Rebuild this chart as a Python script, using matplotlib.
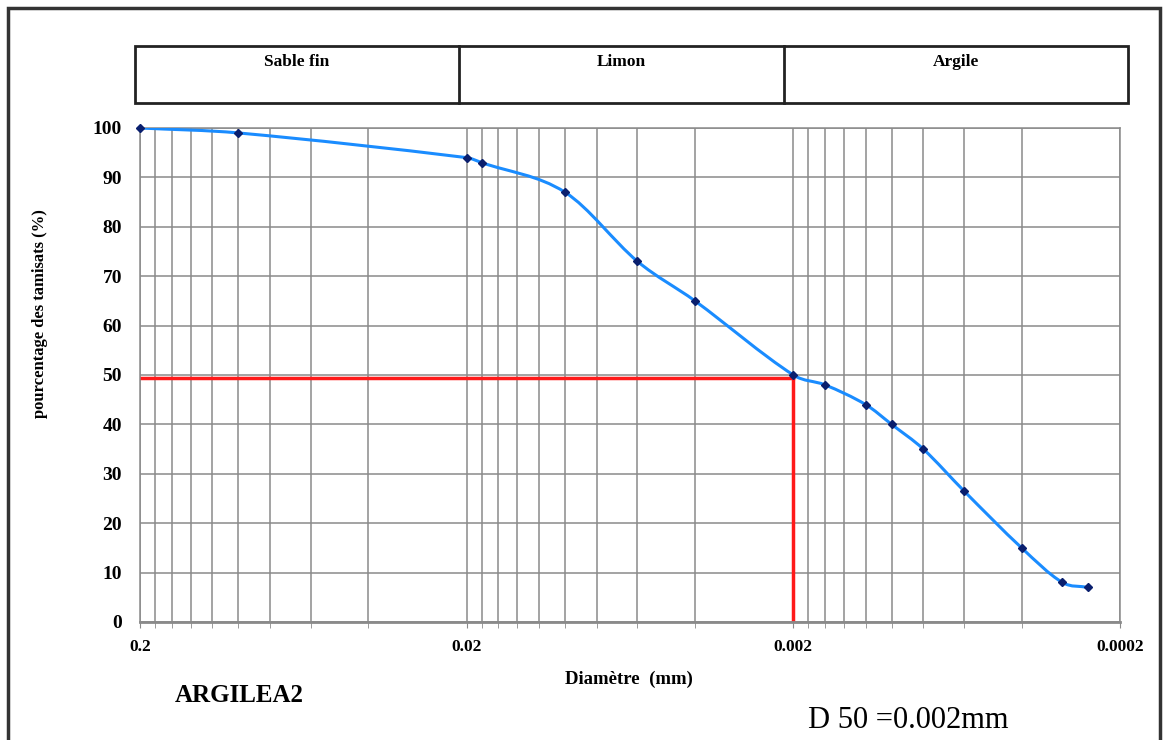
import matplotlib
matplotlib.use("Agg")
import matplotlib.pyplot as plt
import numpy as np
from matplotlib.path import Path
from matplotlib.patches import PathPatch, Rectangle
from matplotlib.lines import Line2D
from matplotlib.ticker import FixedLocator, NullFormatter

# ---- data ----
diameters = [0.2, 0.1, 0.02, 0.018, 0.01, 0.006, 0.004, 0.002, 0.0016,
             0.0012, 0.001, 0.0008, 0.0006, 0.0004, 0.0003, 0.00025]
passing = [100, 99, 94, 93, 87, 73, 65, 50, 48, 44, 40, 35, 26.5, 15, 8, 7]
d50_value = 0.002
d50_level = 49.3
major_ticks = [0.2, 0.02, 0.002, 0.0002]
major_labels = ["0.2", "0.02", "0.002", "0.0002"]
y_ticks = list(range(0, 101, 10))
zones = ["Sable fin", "Limon", "Argile"]

serif = "Liberation Serif"
W, H = 1164, 740
fig = plt.figure(figsize=(W / 100, H / 100), dpi=100)

def fx(px):
    return px / W

def fy(py):
    return 1 - py / H

ax = fig.add_axes([fx(140), fy(622), fx(1120) - fx(140), fy(128) - fy(622)])
ax.set_xscale("log")
ax.set_xlim(0.2, 0.0002)
ax.set_ylim(0, 100)

grid_col = "#8a8a8a"
ax.xaxis.set_major_locator(FixedLocator(major_ticks))
minor = [m * k for m in major_ticks[1:] for k in range(2, 10)]
ax.xaxis.set_minor_locator(FixedLocator(minor))
ax.xaxis.set_minor_formatter(NullFormatter())
ax.set_xticklabels(major_labels)
ax.set_yticks(y_ticks)
ax.grid(True, which="both", axis="x", color=grid_col, lw=1.1)
ax.grid(True, which="major", axis="y", color=grid_col, lw=1.1)
ax.set_axisbelow(True)
for s in ax.spines.values():
    s.set_color(grid_col)
    s.set_linewidth(1.1)
ax.spines["bottom"].set_linewidth(2)
ax.tick_params(axis="x", which="both", length=4, color=grid_col, pad=8)
ax.tick_params(axis="y", which="both", length=0, pad=13)
for lab in ax.get_xticklabels():
    lab.set_fontfamily(serif)
    lab.set_fontweight("bold")
    lab.set_fontsize(12.5)
for lab in ax.get_yticklabels():
    lab.set_fontfamily(serif)
    lab.set_fontweight("bold")
    lab.set_fontsize(14)

# smoothed curve (cubic Hermite bezier in log-x space)
lx = np.log10(np.array(diameters, dtype=float))
yy = np.array(passing, dtype=float)
n = len(lx)
slopes = np.zeros(n)
for i in range(n):
    if i == 0:
        slopes[i] = (yy[1] - yy[0]) / (lx[1] - lx[0])
    elif i == n - 1:
        slopes[i] = (yy[-1] - yy[-2]) / (lx[-1] - lx[-2])
    else:
        slopes[i] = (yy[i + 1] - yy[i - 1]) / (lx[i + 1] - lx[i - 1])
verts = [(lx[0], yy[0])]
codes = [Path.MOVETO]
for i in range(n - 1):
    dx = lx[i + 1] - lx[i]
    c1 = (lx[i] + dx / 3, yy[i] + slopes[i] * dx / 3)
    c2 = (lx[i + 1] - dx / 3, yy[i + 1] - slopes[i + 1] * dx / 3)
    verts += [c1, c2, (lx[i + 1], yy[i + 1])]
    codes += [Path.CURVE4] * 3
verts = np.array(verts)
verts[:, 0] = 10 ** verts[:, 0]
patch = PathPatch(Path(verts, codes), fill=False, edgecolor="#1a8cff", lw=2.2,
                  transform=ax.transData, zorder=3)
ax.add_patch(patch)
ax.plot(diameters, passing, linestyle="none", marker="D", markersize=4.5,
        color="#0a1f6e", zorder=4, clip_on=False)

# D50 lines
ax.plot([0.2, d50_value], [d50_level, d50_level], color="#ff1a1a", lw=2.5, zorder=2)
ax.plot([d50_value, d50_value], [0, d50_level], color="#ff1a1a", lw=2.5, zorder=2)

ax.set_ylabel("pourcentage des tamisats (%)", fontfamily=serif, fontweight="bold",
              fontsize=12)
ax.yaxis.set_label_coords((40 - 140) / 980, (622 - 314) / 494)
ax.yaxis.label.set_va("center")
ax.set_xlabel("Diamètre  (mm)", fontfamily=serif, fontweight="bold", fontsize=13.5)
ax.xaxis.set_label_coords((629 - 140) / 980, (622 - 679) / 494)
ax.xaxis.label.set_va("center")

# outer border
fig.add_artist(Rectangle((fx(8), -0.05), fx(1160) - fx(8), fy(8) + 0.05,
                         transform=fig.transFigure, fill=False,
                         edgecolor="#333333", lw=2.5))

# header box
hx0, hx1, hy0, hy1 = 135, 1128, 46, 103
fig.add_artist(Rectangle((fx(hx0), fy(hy1)), fx(hx1) - fx(hx0), fy(hy0) - fy(hy1),
                         transform=fig.transFigure, fill=False,
                         edgecolor="#222222", lw=2))
edges = [hx0, 459, 784, hx1]
for xd in edges[1:-1]:
    fig.add_artist(Line2D([fx(xd), fx(xd)], [fy(hy1), fy(hy0)],
                          transform=fig.transFigure, color="#222222", lw=2))
for i, z in enumerate(zones):
    xc = (edges[i] + edges[i + 1]) / 2
    fig.text(fx(xc), fy(62), z, ha="center", va="center", fontfamily=serif,
             fontweight="bold", fontsize=12.5)

fig.text(fx(239), fy(695), "ARGILEA2", ha="center", va="center",
         fontfamily=serif, fontweight="bold", fontsize=18)
fig.text(fx(908), fy(721), "D 50 =0.002mm", ha="center", va="center",
         fontfamily=serif, fontsize=22)

fig.savefig("out.png", dpi=100)
